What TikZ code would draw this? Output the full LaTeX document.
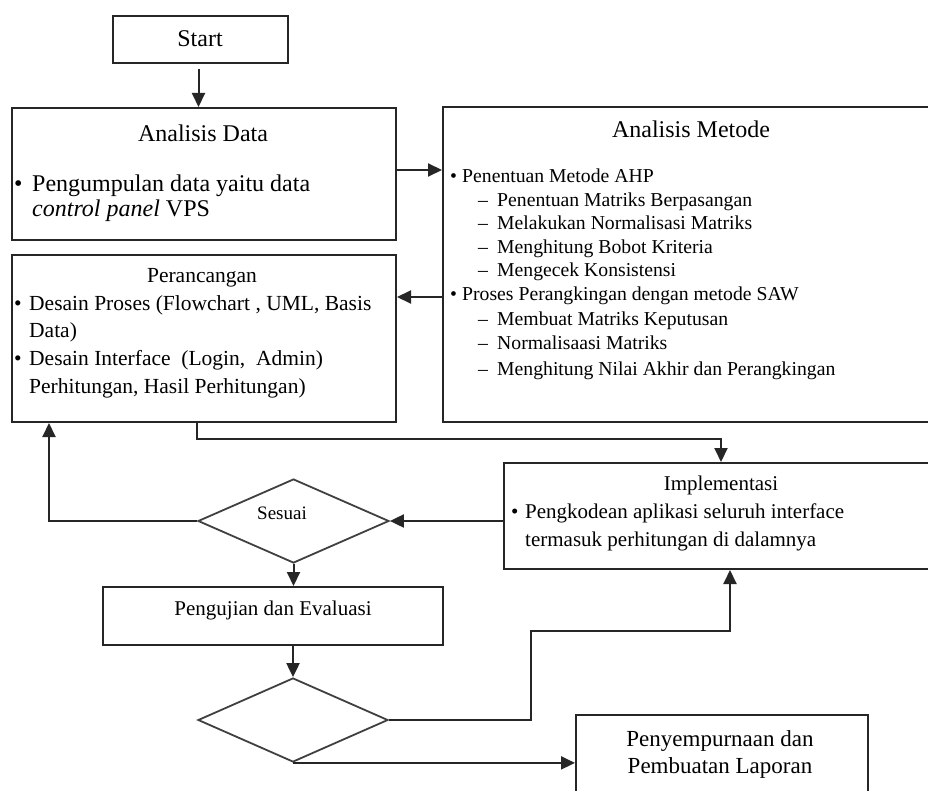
\documentclass[tikz,border=0pt]{standalone}
\usepackage{fontspec}
\setmainfont{Liberation Serif}
\usetikzlibrary{arrows.meta,shapes.geometric,calc}
\newcommand\myfXXIV{\fontsize{24}{28}\selectfont}
\newcommand\myfXXIII{\fontsize{23}{27}\selectfont}
\newcommand\myfXXII{\fontsize{21.5}{26}\selectfont}
\newcommand\myfXXI{\fontsize{21}{25}\selectfont}
\newcommand\myfXX{\fontsize{19.7}{24}\selectfont}
\newcommand\myfXIX{\fontsize{19}{23}\selectfont}
\tikzset{
  box/.style={draw=black!85, line width=2pt, rectangle, inner sep=0pt},
  dia/.style={draw=black!75, line width=1.8pt, diamond, inner sep=0pt},
  arr/.style={line width=2pt, draw=black!85, -{Triangle[length=14pt,width=13pt]}},
  txt/.style={inner sep=0pt, anchor=base west, text=black},
  ctxt/.style={inner sep=0pt, anchor=base, text=black}
}
\begin{document}
\begin{tikzpicture}[x=1pt,y=-1pt]
\clip (0,0) rectangle (928,791);
\fill[white] (0,0) rectangle (928,791);

% boxes
\node[box, minimum width=175pt, minimum height=47pt] (start) at (200.5,39.5) {};
\node[box, minimum width=384pt, minimum height=132pt] (ad) at (204,174) {};
\node[box, minimum width=517pt, minimum height=315pt] (am) at (701.5,264.5) {};
\node[box, minimum width=384pt, minimum height=167pt] (per) at (204,338.5) {};
\node[box, minimum width=456pt, minimum height=106pt] (impl) at (732,516) {};
\node[dia, minimum width=191pt, minimum height=84pt] (sesuai) at (293.5,521) {};
\node[box, minimum width=340pt, minimum height=58pt] (uji) at (273,616) {};
\node[dia, minimum width=190pt, minimum height=84pt] (dec) at (293,720) {};
\node[box, minimum width=292pt, minimum height=105pt] (final) at (722,767.5) {};

% texts
\node[ctxt] (tstart) at (200,47) {\myfXXIV Start};

\node[ctxt] (tad) at (203,142) {\myfXXIV Analisis Data};
\node[txt] (bad) at (14,192) {\myfXXIV •};
\node[txt] (ad1) at (32,192) {\myfXXIV Pengumpulan data yaitu data};
\node[txt] (ad2) at (32,217) {\myfXXIV \textit{control panel} VPS};

\node[ctxt] (tam) at (691,138) {\myfXXIV Analisis Metode};
\node[txt] (bam1) at (450,183) {\myfXX •};
\node[txt] (am1) at (462,183) {\myfXX Penentuan Metode AHP};
\node[txt] (dam1) at (478,207) {\myfXX –};
\node[txt] (am2) at (497,207) {\myfXX Penentuan Matriks Berpasangan};
\node[txt] (dam2) at (478,230) {\myfXX –};
\node[txt] (am3) at (497,230) {\myfXX Melakukan Normalisasi Matriks};
\node[txt] (dam3) at (478,254) {\myfXX –};
\node[txt] (am4) at (497,254) {\myfXX Menghitung Bobot Kriteria};
\node[txt] (dam4) at (478,277) {\myfXX –};
\node[txt] (am5) at (497,277) {\myfXX Mengecek Konsistensi};
\node[txt] (bam2) at (450,301) {\myfXX •};
\node[txt] (am6) at (462,301) {\myfXX Proses Perangkingan dengan metode SAW};
\node[txt] (dam6) at (478,325) {\myfXX –};
\node[txt] (am7) at (497,325) {\myfXX Membuat Matriks Keputusan};
\node[txt] (dam7) at (478,349) {\myfXX –};
\node[txt] (am8) at (497,349) {\myfXX Normalisaasi Matriks};
\node[txt] (dam8) at (478,375) {\myfXX –};
\node[txt] (am9) at (497,375) {\myfXX Menghitung Nilai Akhir dan Perangkingan};

\node[ctxt] (tper) at (202,283) {\myfXXII Perancangan};
\node[txt] (bper1) at (14,310) {\myfXXII •};
\node[txt] (per1) at (29,310) {\myfXXII Desain Proses (Flowchart , UML, Basis};
\node[txt] (per2) at (29,337) {\myfXXII Data)};
\node[txt] (bper2) at (14,365) {\myfXXII •};
\node[txt] (per3) at (29,365) {\myfXXII Desain Interface\ \ (Login, \ Admin)};
\node[txt] (per4) at (29,393) {\myfXXII Perhitungan, Hasil Perhitungan)};

\node[ctxt] (timpl) at (721,490) {\myfXXI Implementasi};
\node[txt] (bimpl) at (511,518) {\myfXXI •};
\node[txt] (impl1) at (525,518) {\myfXXI Pengkodean aplikasi seluruh interface};
\node[txt] (impl2) at (525,546) {\myfXXI termasuk perhitungan di dalamnya};

\node[ctxt] (tsesuai) at (282,519) {\myfXIX Sesuai};
\node[ctxt] (tuji) at (273,615) {\myfXXI Pengujian dan Evaluasi};

\node[ctxt] (tfin1) at (720,746) {\myfXXIII Penyempurnaan dan};
\node[ctxt] (tfin2) at (720,773) {\myfXXIII Pembuatan Laporan};

% connectors
\draw[arr] ([yshift=-5pt,xshift=-2pt]start.south) -- ([xshift=-2pt]start.south |- ad.north);
\coordinate (pA) at ([yshift=4pt]ad.east);
\draw[arr] (pA) -- (pA -| am.west);
\coordinate (pB) at ([yshift=41.5pt]per.east);
\draw[arr] (pB -| am.west) -- (pB);
\draw[arr] ([xshift=-7pt]per.south) -- ++(0,16) -| ([xshift=-11pt]impl.north);
\draw[arr] (sesuai.east -| impl.west) -- (sesuai.east);
\draw[arr] (sesuai.west) -| ([xshift=38pt]per.south west);
\draw[arr] (sesuai.south) -- (sesuai.south |- uji.north);
\draw[arr] (uji.south -| dec.north) -- (dec.north);
\draw[arr] (dec.east) -| ++(142,-89) -| ([xshift=-2pt]impl.south);
\draw[arr] (dec.south) -- (dec.south -| final.west);
\end{tikzpicture}
\end{document}
